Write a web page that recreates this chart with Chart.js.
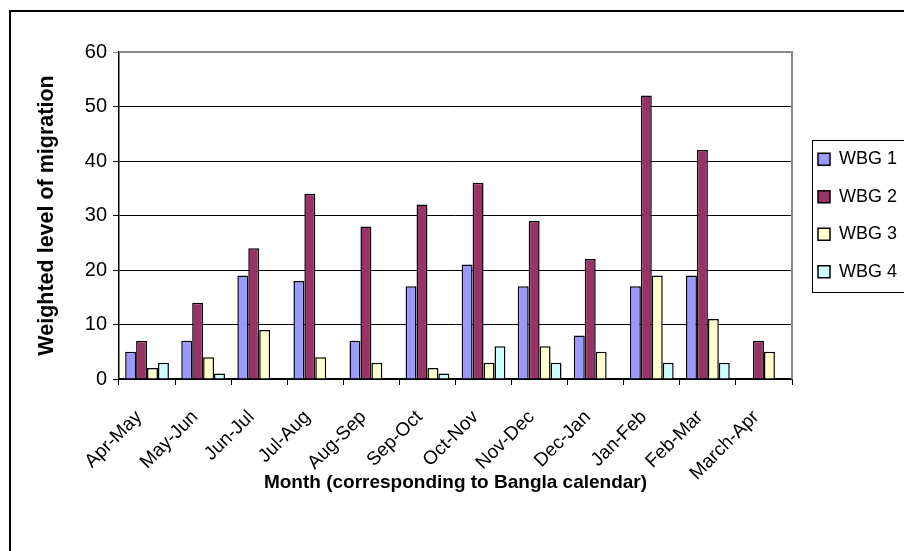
<!DOCTYPE html>
<html>
<head>
<meta charset="utf-8">
<script src="https://cdn.jsdelivr.net/npm/chart.js@4.4.0/dist/chart.umd.min.js"></script>
<style>
  body { margin: 0; background: #fff; }
  #wrap { width: 904px; height: 551px; }
</style>
</head>
<body>
<div id="wrap"><canvas id="migChart" width="904" height="551"></canvas></div>
<script>
const months = ['Apr-May', 'May-Jun', 'Jun-Jul', 'Jul-Aug', 'Aug-Sep', 'Sep-Oct',
                'Oct-Nov', 'Nov-Dec', 'Dec-Jan', 'Jan-Feb', 'Feb-Mar', 'March-Apr'];
const wbg1 = [5, 7, 19, 18, 7, 17, 21, 17, 8, 17, 19, 0];
const wbg2 = [7, 14, 24, 34, 28, 32, 36, 29, 22, 52, 42, 7];
const wbg3 = [2, 4, 9, 4, 3, 2, 3, 6, 5, 19, 11, 5];
const wbg4 = [3, 1, 0, 0, 0, 1, 6, 3, 0, 3, 3, 0];
const yTicks = [0, 10, 20, 30, 40, 50, 60];

const FONT = 'Liberation Sans, Arial, sans-serif';

// outer frame, plot area edge and legend box
const framePlugin = {
    id: 'frame',
    beforeInit(chart) {
        const origFit = chart.legend.fit;
        chart.legend.fit = function fit() {
            origFit.bind(chart.legend)();
            this.width = 112;
        };
    },
    afterLayout(chart) {
        chart.legend.left += 6.5;
    },
    afterDraw(chart) {
        const c = chart.ctx;
        const a = chart.chartArea;
        c.save();
        c.strokeStyle = '#000';
        c.lineWidth = 2;
        c.strokeRect(10, 11, 910, 560);
        c.strokeStyle = '#888';
        c.lineWidth = 2;
        c.beginPath();
        c.moveTo(a.left, a.top);
        c.lineTo(a.right, a.top);
        c.lineTo(a.right, a.bottom);
        c.stroke();
        c.strokeStyle = '#000';
        c.lineWidth = 1;
        c.strokeRect(812.5, 140.5, 100, 152);
        c.restore();
    }
};

const ctx = document.getElementById('migChart').getContext('2d');

const migChart = new Chart(ctx, {
    type: 'bar',
    data: {
        labels: months,
        datasets: [
            { label: 'WBG 1', data: wbg1, backgroundColor: '#9999FF' },
            { label: 'WBG 2', data: wbg2, backgroundColor: '#993366' },
            { label: 'WBG 3', data: wbg3, backgroundColor: '#FFFFCC' },
            { label: 'WBG 4', data: wbg4, backgroundColor: '#CCFFFF' }
        ].map(d => Object.assign(d, {
            borderColor: '#000',
            borderWidth: 1.5,
            categoryPercentage: 0.78,
            barPercentage: 1.0
        }))
    },
    options: {
        responsive: false,
        animation: false,
        layout: { padding: { left: 10, top: 52, right: 0, bottom: 0 } },
        plugins: {
            legend: {
                position: 'right',
                fullSize: false,
                labels: {
                    color: '#000',
                    font: { family: FONT, size: 18 },
                    boxWidth: 12,
                    boxHeight: 12,
                    padding: 19.5
                }
            },
            tooltip: { enabled: false }
        },
        scales: {
            x: {
                afterFit(scale) { scale.height = 172; },
                grid: { display: true, drawOnChartArea: false, color: '#000', tickLength: 6, offset: true },
                border: { color: '#000', width: 1.5 },
                ticks: {
                    color: '#000',
                    font: { family: FONT, size: 19 },
                    maxRotation: 45,
                    minRotation: 45,
                    padding: 21,
                    labelOffset: -8
                },
                title: {
                    display: true,
                    text: 'Month (corresponding to Bangla calendar)',
                    color: '#000',
                    font: { family: FONT, size: 19, weight: 'bold' },
                    padding: { top: 0, bottom: 57 }
                }
            },
            y: {
                min: 0,
                max: 60,
                afterFit(scale) { scale.width = 109; },
                afterBuildTicks(scale) { scale.ticks = yTicks.map(v => ({ value: v })); },
                grid: {
                    color: ctx => (ctx.tick && ctx.tick.value === 60 ? '#888' : '#000'),
                    tickLength: 6,
                    lineWidth: 1
                },
                border: { color: '#000', width: 1.5 },
                ticks: {
                    color: '#000',
                    font: { family: FONT, size: 20 },
                    padding: 6
                },
                title: {
                    display: true,
                    text: 'Weighted level of migration',
                    color: '#000',
                    font: { family: FONT, size: 21.5, weight: 'bold' },
                    padding: { top: 24, bottom: 0 }
                }
            }
        }
    },
    plugins: [framePlugin]
});
</script>
</body>
</html>
